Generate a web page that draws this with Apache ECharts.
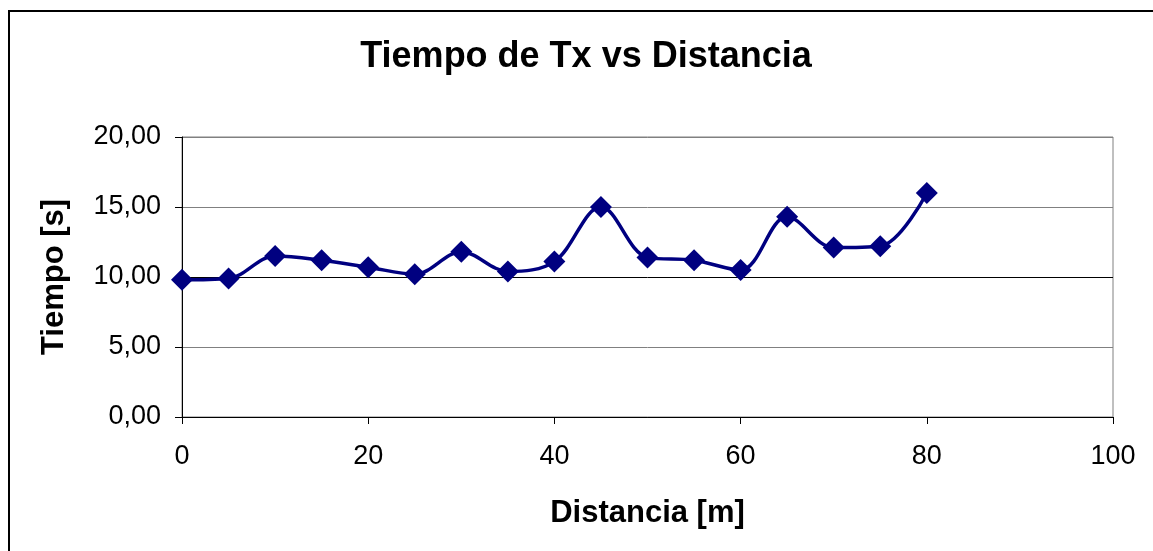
<!DOCTYPE html>
<html>
<head>
<meta charset="utf-8">
<script src="https://cdn.jsdelivr.net/npm/echarts@6/dist/echarts.min.js"></script>
<style>
html,body{margin:0;padding:0;background:#fff;}
#chart{width:1153px;height:551px;}
</style>
</head>
<body>
<div id="chart"></div>
<script>
const titleText = 'Tiempo de Tx vs Distancia';
const xAxisTitle = 'Distancia [m]';
const yAxisTitle = 'Tiempo [s]';
const distances = [0, 5, 10, 15, 20, 25, 30, 35, 40, 45, 50, 55, 60, 65, 70, 75, 80];
const times = [9.8, 9.9, 11.5, 11.2, 10.7, 10.2, 11.8, 10.4, 11.1, 15.0, 11.4, 11.2, 10.5, 14.3, 12.1, 12.2, 16.0];
const xTicks = [0, 20, 40, 60, 80, 100];
const yTicks = [0, 5, 10, 15, 20];

const FONT = 'Liberation Sans, Arial, sans-serif';
const chart = echarts.init(document.getElementById('chart'), null, {renderer: 'canvas'});
chart.setOption({
  animation: false,
  backgroundColor: '#fff',
  title: {
    text: titleText,
    left: 586, top: 39, textAlign: 'center', padding: 0,
    textStyle: {fontFamily: FONT, fontWeight: 'bold', fontSize: 36, color: '#000'}
  },
  graphic: [{
    type: 'rect', silent: true,
    shape: {x: 9, y: 11, width: 1200, height: 600},
    style: {fill: 'none', stroke: '#000', lineWidth: 2}
  }],
  grid: {left: 182, top: 137, right: 40, bottom: 134, show: true, borderColor: '#808080', borderWidth: 1, backgroundColor: 'transparent'},
  xAxis: {
    type: 'value', min: xTicks[0], max: xTicks[xTicks.length - 1], interval: 20,
    name: xAxisTitle, nameLocation: 'middle', nameGap: 81,
    nameTextStyle: {fontFamily: FONT, fontWeight: 'bold', fontSize: 31, color: '#000'},
    axisLine: {show: true, lineStyle: {color: '#000', width: 1}},
    axisTick: {show: true, inside: false, length: 7, lineStyle: {color: '#000'}},
    axisLabel: {fontFamily: FONT, fontSize: 27, color: '#000', margin: 26},
    splitLine: {show: false}
  },
  yAxis: {
    type: 'value', min: yTicks[0], max: yTicks[yTicks.length - 1], interval: 5,
    name: yAxisTitle, nameLocation: 'middle', nameGap: 112, nameRotate: 90,
    nameTextStyle: {fontFamily: FONT, fontWeight: 'bold', fontSize: 31, color: '#000'},
    axisLine: {show: true, lineStyle: {color: '#000', width: 1}},
    axisTick: {show: true, inside: false, length: 7, lineStyle: {color: '#000'}},
    axisLabel: {fontFamily: FONT, fontSize: 27, color: '#000', margin: 21,
      formatter: v => v.toFixed(2).replace('.', ',')},
    splitLine: {show: true, lineStyle: {color: ['#000', '#808080', '#000', '#808080', '#808080'], width: 1}}
  },
  series: [{
    type: 'line',
    data: distances.map((d, i) => [d, times[i]]),
    smooth: 0.35,
    symbol: 'diamond', symbolSize: 22,
    lineStyle: {color: '#000080', width: 3.5},
    itemStyle: {color: '#000080'}
  }]
});
</script>
</body>
</html>
